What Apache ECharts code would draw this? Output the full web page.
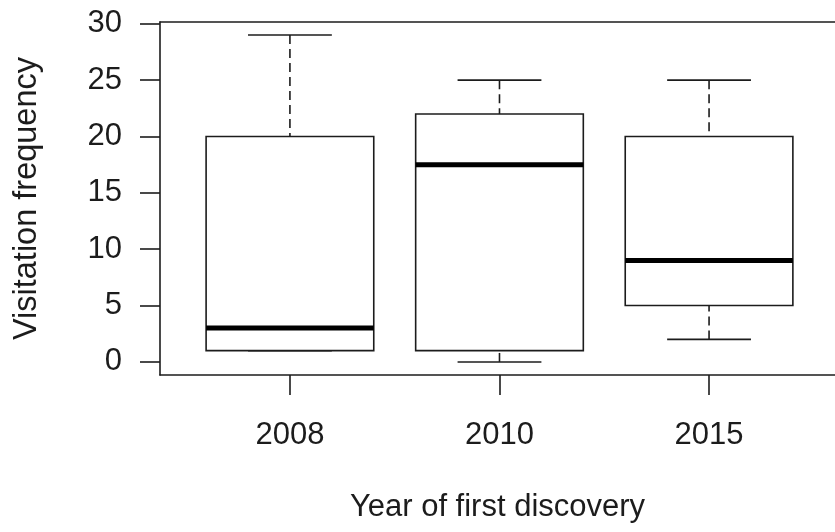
<!DOCTYPE html>
<html>
<head>
<meta charset="utf-8">
<script src="https://cdn.jsdelivr.net/npm/echarts@6/dist/echarts.min.js"></script>
<style>
  html, body { margin: 0; padding: 0; background: #fff; }
  #chart { width: 835px; height: 532px; }
</style>
</head>
<body>
<div id="chart"></div>
<script>
// Five-number summaries per discovery year
var years = ['2008', '2010', '2015'];
var whiskerLow  = [1, 0, 2];
var quartile1   = [1, 1, 5];
var medians     = [3, 17.5, 9];
var quartile3   = [20, 22, 20];
var whiskerHigh = [29, 25, 25];
var yTicks = [0, 5, 10, 15, 20, 25, 30];

var positions = years.map(function (_, i) { return i + 1; });
var boxData = years.map(function (_, i) {
  return [positions[i], whiskerLow[i], quartile1[i], medians[i], quartile3[i], whiskerHigh[i]];
});

var INK = '#1c1c1c';
var FONT = '"Liberation Sans", Arial, Helvetica, sans-serif';
var BOX_HALF = 0.4;
var STAPLE_HALF = 0.2;
var LW = 1.6;

function renderBox(params, api) {
  var x = api.value(0);
  var lo = api.value(1), q1 = api.value(2), md = api.value(3), q3 = api.value(4), hi = api.value(5);
  function pt(dx, v) { return api.coord([x + dx, v]); }
  var pLo = pt(0, lo), pQ1 = pt(0, q1), pQ3 = pt(0, q3), pHi = pt(0, hi);
  var bl = pt(-BOX_HALF, q3), br = pt(BOX_HALF, q1);
  var sl = pt(-STAPLE_HALF, hi), sr = pt(STAPLE_HALF, hi);
  var ll = pt(-STAPLE_HALF, lo), lr = pt(STAPLE_HALF, lo);
  var ml = pt(-BOX_HALF, md), mr = pt(BOX_HALF, md);
  var dash = { stroke: INK, lineWidth: LW, lineDash: [9, 5] };
  var solid = { stroke: INK, lineWidth: LW };
  return {
    type: 'group',
    children: [
      { type: 'line', shape: { x1: pHi[0], y1: pHi[1], x2: pQ3[0], y2: pQ3[1] }, style: dash },
      { type: 'line', shape: { x1: pLo[0], y1: pLo[1], x2: pQ1[0], y2: pQ1[1] }, style: dash },
      { type: 'line', shape: { x1: sl[0], y1: sl[1], x2: sr[0], y2: sr[1] }, style: solid },
      { type: 'line', shape: { x1: ll[0], y1: ll[1], x2: lr[0], y2: lr[1] }, style: solid },
      { type: 'rect', shape: { x: bl[0], y: bl[1], width: br[0] - bl[0], height: br[1] - bl[1] },
        style: { fill: '#fff', stroke: INK, lineWidth: LW } },
      { type: 'line', shape: { x1: ml[0], y1: ml[1], x2: mr[0], y2: mr[1] },
        style: { stroke: '#000', lineWidth: 5 } }
    ]
  };
}

var frameLine = { show: true, onZero: false, lineStyle: { color: INK, width: LW } };

var chart = echarts.init(document.getElementById('chart'), null, { renderer: 'canvas' });
chart.setOption({
  animation: false,
  backgroundColor: '#fff',
  grid: { left: 160, top: 22, right: 0, height: 353, show: false },
  xAxis: [{
    type: 'value',
    position: 'bottom',
    min: 0.38, max: 3.601,
    name: 'Year of first discovery',
    nameLocation: 'middle',
    nameGap: 117,
    nameTextStyle: { fontFamily: FONT, fontSize: 31, color: INK },
    axisLine: frameLine,
    splitLine: { show: false },
    axisTick: { show: true, length: 20, customValues: positions, lineStyle: { color: INK, width: LW } },
    axisLabel: {
      customValues: positions, margin: 45,
      fontFamily: FONT, fontSize: 31, color: INK,
      formatter: function (v) { return years[Math.round(v) - 1] || ''; }
    }
  }, {
    // top edge of the plot frame
    type: 'value',
    position: 'top',
    min: 0.38, max: 3.601,
    axisLine: frameLine,
    axisTick: { show: false },
    axisLabel: { show: false },
    splitLine: { show: false }
  }],
  yAxis: {
    type: 'value',
    min: -1.16, max: 30.16,
    name: 'Visitation frequency',
    nameLocation: 'middle',
    nameRotate: 90,
    nameGap: 116,
    nameTextStyle: { fontFamily: FONT, fontSize: 32.5, color: INK },
    axisLine: frameLine,
    splitLine: { show: false },
    axisTick: { show: true, length: 20, customValues: yTicks, lineStyle: { color: INK, width: LW } },
    axisLabel: { customValues: yTicks, margin: 38, fontFamily: FONT, fontSize: 31, color: INK }
  },
  series: [{
    type: 'custom',
    renderItem: renderBox,
    data: boxData,
    encode: { x: 0, y: [1, 2, 3, 4, 5] },
    clip: true
  }]
});
</script>
</body>
</html>
